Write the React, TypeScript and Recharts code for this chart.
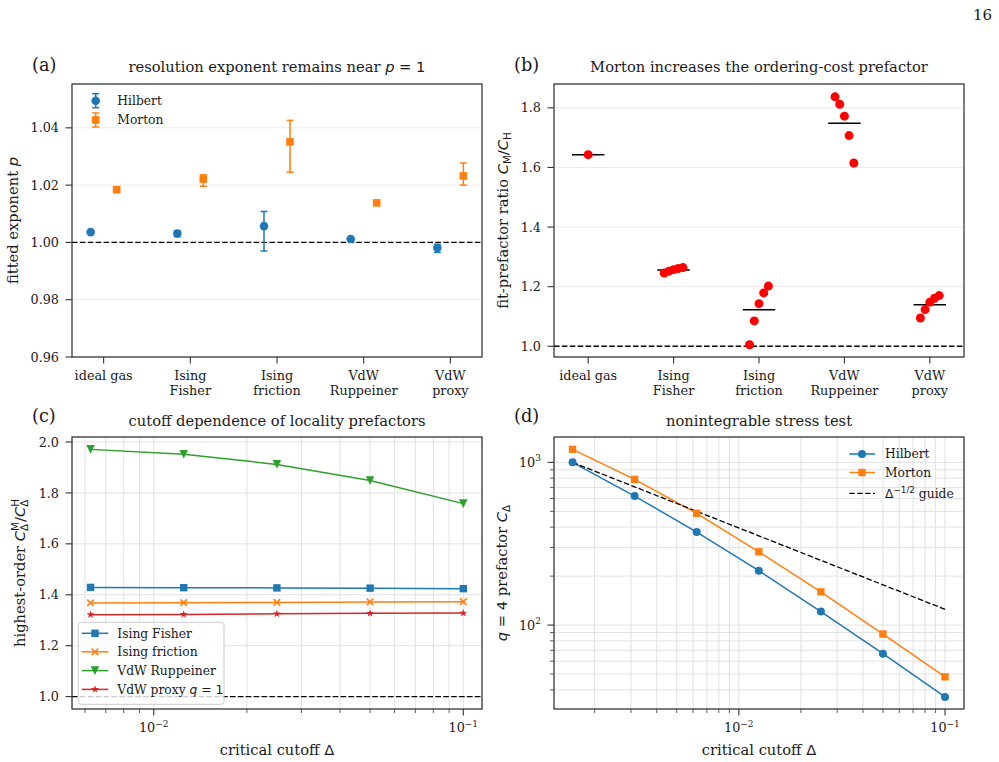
import React from 'react';
import {
  ScatterChart,
  Scatter,
  LineChart,
  Line,
  XAxis,
  YAxis,
  CartesianGrid,
  ErrorBar,
  ReferenceLine,
} from 'recharts';

// ---------- data ----------
const CATEGORIES = ['ideal gas', 'Ising\nFisher', 'Ising\nfriction', 'VdW\nRuppeiner', 'VdW\nproxy'];

// (a) fitted resolution exponent p with (asymmetric) fit intervals
const HILBERT_P = [1.0036, 1.0031, 1.0057, 1.0012, 0.9981];
const HILBERT_P_ERR_LO = [0.0003, 0.0011, 0.0087, 0.0003, 0.0016];
const HILBERT_P_ERR_HI = [0.0003, 0.001, 0.0051, 0.0003, 0.0012];
const MORTON_P = [1.0184, 1.0221, 1.0351, 1.0138, 1.0232];
const MORTON_P_ERR_LO = [0.0003, 0.0025, 0.0106, 0.0003, 0.0032];
const MORTON_P_ERR_HI = [0.0003, 0.0015, 0.0075, 0.0003, 0.0045];
const P_TICKS = [0.96, 0.98, 1.0, 1.02, 1.04];

// (b) per-run prefactor ratios C_M / C_H
const RATIO_IDEAL_GAS = [1.643];
const RATIO_ISING_FISHER = [1.246, 1.252, 1.257, 1.261, 1.264];
const RATIO_ISING_FRICTION = [1.005, 1.085, 1.143, 1.179, 1.202];
const RATIO_VDW_RUPPEINER = [1.837, 1.812, 1.772, 1.707, 1.615];
const RATIO_VDW_PROXY = [1.095, 1.123, 1.148, 1.161, 1.17];
const RATIO_TICKS = [1.0, 1.2, 1.4, 1.6, 1.8];

// (c) highest-order prefactor ratio vs critical cutoff
const CUTOFF_C = [0.00625, 0.0125, 0.025, 0.05, 0.1];
const FISHER_C = [1.429, 1.428, 1.427, 1.426, 1.424];
const FRICTION_C = [1.368, 1.369, 1.37, 1.372, 1.373];
const RUPPEINER_C = [1.971, 1.952, 1.912, 1.849, 1.758];
const PROXY_C = [1.322, 1.323, 1.325, 1.327, 1.328];
const CUTOFF_C_TICKS = [0.006, 0.007, 0.008, 0.009, 0.01, 0.02, 0.03, 0.04, 0.05, 0.06, 0.07, 0.08, 0.09, 0.1];
const RATIO_C_TICKS = [1.0, 1.2, 1.4, 1.6, 1.8, 2.0];

// (d) q = 4 prefactor vs critical cutoff
const CUTOFF_D = [0.0015625, 0.003125, 0.00625, 0.0125, 0.025, 0.05, 0.1];
const HILBERT_D = [1000, 621, 373, 216, 121, 66.7, 36.2];
const MORTON_D = [1202, 786, 486, 282, 160, 88.1, 48.1];
const GUIDE_D = [1000, 707.1, 500, 353.6, 250, 176.8, 125];
const CUTOFF_D_TICKS = [
  0.002, 0.003, 0.004, 0.005, 0.006, 0.007, 0.008, 0.009, 0.01,
  0.02, 0.03, 0.04, 0.05, 0.06, 0.07, 0.08, 0.09, 0.1,
];
const PREFACTOR_D_TICKS = [40, 50, 60, 70, 80, 90, 100, 200, 300, 400, 500, 600, 700, 800, 900, 1000];

// ---------- style ----------
const BLUE = '#1f77b4';
const ORANGE = '#ff7f0e';
const GREEN = '#2ca02c';
const RED = '#d62728';
const AX = '#333';
const TXT = '#1a1a1a';
const GRID_AB = '#ebebeb';
const GRID_CD = '#e2e2e2';
const SERIF = '"DejaVu Serif", serif';
const SANS = '"DejaVu Sans", sans-serif';
const TICK_FS = 12.8;
const LABEL_FS = 14.7;
const LEGEND_FS = 12.3;
const MAJOR_TICK = 6.5;
const MINOR_TICK = 4;
const DASH = '5.5 2.4';

type Rect = { l: number; t: number; r: number; b: number };
const PA: Rect = { l: 72, t: 84, r: 482, b: 357 };
const PB: Rect = { l: 554, t: 84, r: 964, b: 357 };
const PC: Rect = { l: 72, t: 437, r: 482, b: 709 };
const PD: Rect = { l: 554, t: 437, r: 964, b: 709 };

const Y_AXIS_W = 60;
const X_AXIS_H = 50;
const PAD_T = 10;
const PAD_R = 20;

function frameFor(p: Rect) {
  return {
    style: { position: 'absolute', left: p.l - Y_AXIS_W, top: p.t - PAD_T } as React.CSSProperties,
    width: p.r - p.l + Y_AXIS_W + PAD_R,
    height: p.b - p.t + PAD_T + X_AXIS_H,
    margin: { top: PAD_T, right: PAD_R, bottom: 0, left: 0 },
  };
}

// ---------- markers ----------
type MarkerKind = 'circle' | 'square' | 'x' | 'triDown' | 'star';

function Marker({ kind, cx, cy, color, size }: { kind: MarkerKind; cx: number; cy: number; color: string; size: number }) {
  const h = size / 2;
  if (kind === 'circle') return <circle cx={cx} cy={cy} r={h} fill={color} />;
  if (kind === 'square') return <rect x={cx - h} y={cy - h} width={size} height={size} fill={color} />;
  if (kind === 'x')
    return (
      <path
        d={`M${cx - h},${cy - h}L${cx + h},${cy + h}M${cx - h},${cy + h}L${cx + h},${cy - h}`}
        stroke={color}
        strokeWidth={1.6}
        fill="none"
      />
    );
  if (kind === 'triDown') return <path d={`M${cx - h},${cy - h}L${cx + h},${cy - h}L${cx},${cy + h}Z`} fill={color} />;
  const pts: string[] = [];
  for (let k = 0; k < 10; k++) {
    const rad = k % 2 === 0 ? h : h * 0.382;
    const a = -Math.PI / 2 + (k * Math.PI) / 5;
    pts.push(`${cx + rad * Math.cos(a)},${cy + rad * Math.sin(a)}`);
  }
  return <polygon points={pts.join(' ')} fill={color} />;
}

// ---------- ticks ----------
const isDecade = (v: number) => Math.abs(Math.log10(v) - Math.round(Math.log10(v))) < 1e-9;

const CategoryTick = (props: any) => {
  const { x, y, payload } = props;
  const lines = CATEGORIES[payload.value].split('\n');
  return (
    <g>
      <line x1={x} x2={x} y1={y} y2={y + MAJOR_TICK} stroke={AX} strokeWidth={1.1} />
      <text x={x} y={y + 22.7} textAnchor="middle" fontFamily={SERIF} fontSize={TICK_FS} fill={TXT}>
        {lines.map((l: string, i: number) => (
          <tspan key={i} x={x} dy={i === 0 ? 0 : 15.3}>
            {l}
          </tspan>
        ))}
      </text>
    </g>
  );
};

const LinearYTick = (props: any) => {
  const { x, y, payload, digits } = props;
  return (
    <g>
      <line x1={x - MAJOR_TICK} x2={x} y1={y} y2={y} stroke={AX} strokeWidth={1.1} />
      <text x={x - 13} y={y} dy="0.36em" textAnchor="end" fontFamily={SERIF} fontSize={TICK_FS} fill={TXT}>
        {payload.value.toFixed(digits)}
      </text>
    </g>
  );
};

const LogXTick = (props: any) => {
  const { x, y, payload } = props;
  const major = isDecade(payload.value);
  const exp = Math.round(Math.log10(payload.value));
  return (
    <g>
      <line x1={x} x2={x} y1={y} y2={y + (major ? MAJOR_TICK : MINOR_TICK)} stroke={AX} strokeWidth={major ? 1.1 : 0.8} />
      {major && (
        <text x={x} y={y + 23} textAnchor="middle" fontFamily={SERIF} fontSize={TICK_FS} fill={TXT}>
          10
          <tspan dy={-5.5} fontSize={9}>
            {exp < 0 ? `\u2212${-exp}` : `${exp}`}
          </tspan>
        </text>
      )}
    </g>
  );
};

const LogYTick = (props: any) => {
  const { x, y, payload } = props;
  const major = isDecade(payload.value);
  const exp = Math.round(Math.log10(payload.value));
  return (
    <g>
      <line x1={x - (major ? MAJOR_TICK : MINOR_TICK)} x2={x} y1={y} y2={y} stroke={AX} strokeWidth={major ? 1.1 : 0.8} />
      {major && (
        <text x={x - 13} y={y} dy="0.36em" textAnchor="end" fontFamily={SERIF} fontSize={TICK_FS} fill={TXT}>
          10
          <tspan dy={-5.5} fontSize={9}>
            {exp}
          </tspan>
        </text>
      )}
    </g>
  );
};

const axisCommon = { tickLine: false, axisLine: false, tickSize: 0, tickMargin: 0, interval: 0 as const, allowDataOverflow: true };

// ---------- panel (a) ----------
const DODGE = 0.15;

function PanelA() {
  const f = frameFor(PA);
  const hilbert = HILBERT_P.map((p, i) => ({ x: i - DODGE, y: p, err: [HILBERT_P_ERR_LO[i], HILBERT_P_ERR_HI[i]] }));
  const morton = MORTON_P.map((p, i) => ({ x: i + DODGE, y: p, err: [MORTON_P_ERR_LO[i], MORTON_P_ERR_HI[i]] }));
  return (
    <div style={f.style}>
      <ScatterChart width={f.width} height={f.height} margin={f.margin}>
        <CartesianGrid vertical={false} stroke={GRID_AB} />
        <XAxis
          {...axisCommon}
          type="number"
          dataKey="x"
          domain={[-0.365, 4.365]}
          ticks={[0, 1, 2, 3, 4]}
          tick={<CategoryTick />}
          height={X_AXIS_H}
        />
        <YAxis
          {...axisCommon}
          type="number"
          dataKey="y"
          domain={[0.96, 1.0553]}
          ticks={P_TICKS}
          tick={<LinearYTick digits={2} />}
          width={Y_AXIS_W}
        />
        <ReferenceLine y={1} stroke="#000" strokeDasharray={DASH} strokeWidth={1.3} />
        <Scatter
          data={hilbert}
          isAnimationActive={false}
          shape={(p: any) => <Marker kind="circle" cx={p.cx} cy={p.cy} color={BLUE} size={8.6} />}
        >
          <ErrorBar dataKey="err" direction="y" width={3.5} stroke={BLUE} strokeWidth={1.5} />
        </Scatter>
        <Scatter
          data={morton}
          isAnimationActive={false}
          shape={(p: any) => <Marker kind="square" cx={p.cx} cy={p.cy} color={ORANGE} size={7.6} />}
        >
          <ErrorBar dataKey="err" direction="y" width={3.5} stroke={ORANGE} strokeWidth={1.5} />
        </Scatter>
      </ScatterChart>
    </div>
  );
}

// ---------- panel (b) ----------
const RATIO_GROUPS = [RATIO_IDEAL_GAS, RATIO_ISING_FISHER, RATIO_ISING_FRICTION, RATIO_VDW_RUPPEINER, RATIO_VDW_PROXY];
const JITTER = 0.055;
const MEAN_HALF = 0.19;

function PanelB() {
  const f = frameFor(PB);
  const points = RATIO_GROUPS.flatMap((g, i) =>
    g.map((v, j) => ({ x: i + (j - (g.length - 1) / 2) * JITTER, y: v })),
  );
  const means = RATIO_GROUPS.map((g) => g.reduce((s, v) => s + v, 0) / g.length);
  return (
    <div style={f.style}>
      <ScatterChart width={f.width} height={f.height} margin={f.margin}>
        <CartesianGrid vertical={false} stroke={GRID_AB} />
        <XAxis
          {...axisCommon}
          type="number"
          dataKey="x"
          domain={[-0.4, 4.4]}
          ticks={[0, 1, 2, 3, 4]}
          tick={<CategoryTick />}
          height={X_AXIS_H}
        />
        <YAxis
          {...axisCommon}
          type="number"
          dataKey="y"
          domain={[0.964, 1.88]}
          ticks={RATIO_TICKS}
          tick={<LinearYTick digits={1} />}
          width={Y_AXIS_W}
        />
        <ReferenceLine y={1} stroke="#000" strokeDasharray={DASH} strokeWidth={1.3} />
        <Scatter
          data={points}
          isAnimationActive={false}
          shape={(p: any) => <Marker kind="circle" cx={p.cx} cy={p.cy} color="#ff0000" size={9} />}
        />
        {means.map((m, i) => (
          <ReferenceLine
            key={i}
            segment={[
              { x: i - MEAN_HALF, y: m },
              { x: i + MEAN_HALF, y: m },
            ]}
            stroke="#000"
            strokeWidth={1.5}
          />
        ))}
      </ScatterChart>
    </div>
  );
}

// ---------- panel (c) ----------
const SERIES_C = [
  { key: 'fisher', name: 'Ising Fisher', values: FISHER_C, color: BLUE, marker: 'square' as MarkerKind, size: 7.4 },
  { key: 'friction', name: 'Ising friction', values: FRICTION_C, color: ORANGE, marker: 'x' as MarkerKind, size: 6.6 },
  { key: 'ruppeiner', name: 'VdW Ruppeiner', values: RUPPEINER_C, color: GREEN, marker: 'triDown' as MarkerKind, size: 8.6 },
  { key: 'proxy', name: 'VdW proxy', values: PROXY_C, color: RED, marker: 'star' as MarkerKind, size: 8.4 },
];

function PanelC() {
  const f = frameFor(PC);
  const rows = CUTOFF_C.map((d, i) => {
    const row: Record<string, number> = { d };
    SERIES_C.forEach((s) => (row[s.key] = s.values[i]));
    return row;
  });
  return (
    <div style={f.style}>
      <LineChart width={f.width} height={f.height} margin={f.margin} data={rows}>
        <CartesianGrid stroke={GRID_CD} />
        <XAxis
          {...axisCommon}
          type="number"
          dataKey="d"
          scale="log"
          domain={[0.005446, 0.11492]}
          ticks={CUTOFF_C_TICKS}
          tick={<LogXTick />}
          height={X_AXIS_H}
        />
        <YAxis
          {...axisCommon}
          type="number"
          domain={[0.9514, 2.0196]}
          ticks={RATIO_C_TICKS}
          tick={<LinearYTick digits={1} />}
          width={Y_AXIS_W}
        />
        <ReferenceLine y={1} stroke="#000" strokeDasharray={DASH} strokeWidth={1.3} />
        {SERIES_C.map((s) => (
          <Line
            key={s.key}
            dataKey={s.key}
            type="linear"
            stroke={s.color}
            strokeWidth={1.5}
            isAnimationActive={false}
            activeDot={false}
            dot={(p: any) => <Marker key={p.index} kind={s.marker} cx={p.cx} cy={p.cy} color={s.color} size={s.size} />}
          />
        ))}
      </LineChart>
    </div>
  );
}

// ---------- panel (d) ----------
function PanelD() {
  const f = frameFor(PD);
  const rows = CUTOFF_D.map((d, i) => ({ d, hilbert: HILBERT_D[i], morton: MORTON_D[i], guide: GUIDE_D[i] }));
  return (
    <div style={f.style}>
      <LineChart width={f.width} height={f.height} margin={f.margin} data={rows}>
        <CartesianGrid stroke={GRID_CD} />
        <XAxis
          {...axisCommon}
          type="number"
          dataKey="d"
          scale="log"
          domain={[0.00127, 0.1236]}
          ticks={CUTOFF_D_TICKS}
          tick={<LogXTick />}
          height={X_AXIS_H}
        />
        <YAxis
          {...axisCommon}
          type="number"
          scale="log"
          domain={[30.5, 1432]}
          ticks={PREFACTOR_D_TICKS}
          tick={<LogYTick />}
          width={Y_AXIS_W}
        />
        <Line
          dataKey="hilbert"
          type="linear"
          stroke={BLUE}
          strokeWidth={1.5}
          isAnimationActive={false}
          activeDot={false}
          dot={(p: any) => <Marker key={p.index} kind="circle" cx={p.cx} cy={p.cy} color={BLUE} size={8} />}
        />
        <Line
          dataKey="morton"
          type="linear"
          stroke={ORANGE}
          strokeWidth={1.5}
          isAnimationActive={false}
          activeDot={false}
          dot={(p: any) => <Marker key={p.index} kind="square" cx={p.cx} cy={p.cy} color={ORANGE} size={7.4} />}
        />
        <Line
          dataKey="guide"
          type="linear"
          stroke="#000"
          strokeWidth={1.3}
          strokeDasharray={DASH}
          isAnimationActive={false}
          activeDot={false}
          dot={false}
        />
      </LineChart>
    </div>
  );
}

// ---------- frames, titles, labels, legends ----------
const Italic = ({ children }: { children: React.ReactNode }) => (
  <tspan fontFamily={SANS} fontStyle="italic">
    {children}
  </tspan>
);

function Frame({ p }: { p: Rect }) {
  return <rect x={p.l} y={p.t} width={p.r - p.l} height={p.b - p.t} fill="none" stroke={AX} strokeWidth={1.25} />;
}

function YLabel({ x, cy, children }: { x: number; cy: number; children: React.ReactNode }) {
  return (
    <text
      x={x}
      y={cy}
      transform={`rotate(-90 ${x} ${cy})`}
      textAnchor="middle"
      fontFamily={SERIF}
      fontSize={LABEL_FS}
      fill={TXT}
    >
      {children}
    </text>
  );
}

function Overlay() {
  const title = (p: Rect, y: number, content: React.ReactNode) => (
    <text x={(p.l + p.r) / 2} y={y} textAnchor="middle" fontFamily={SERIF} fontSize={LABEL_FS} fill={TXT}>
      {content}
    </text>
  );
  const letter = (x: number, y: number, s: string) => (
    <text x={x} y={y} fontFamily={SERIF} fontSize={17.7} fill={TXT}>
      {s}
    </text>
  );
  const legendText = (x: number, y: number, content: React.ReactNode) => (
    <text x={x} y={y} dy="0.36em" fontFamily={SERIF} fontSize={LEGEND_FS} fill={TXT}>
      {content}
    </text>
  );
  const cRows = [633.3, 651.8, 670.6, 689.4];
  const dRows = [454, 472.5, 493.3];
  return (
    <svg width={999} height={762} style={{ position: 'absolute', left: 0, top: 0, pointerEvents: 'none' }}>
      <text x={992} y={19.5} textAnchor="end" fontFamily={SERIF} fontSize={15} fill={TXT}>
        16
      </text>

      <Frame p={PA} />
      <Frame p={PB} />
      <Frame p={PC} />
      <Frame p={PD} />

      {letter(32, 70.5, '(a)')}
      {letter(514, 70.5, '(b)')}
      {letter(32, 422, '(c)')}
      {letter(514, 422, '(d)')}

      {title(PA, 71.5, <>
        resolution exponent remains near <Italic>p</Italic>
        <tspan fontFamily={SANS}> = 1</tspan>
      </>)}
      {title(PB, 71.5, 'Morton increases the ordering-cost prefactor')}
      {title(PC, 425.5, 'cutoff dependence of locality prefactors')}
      {title(PD, 425.5, 'nonintegrable stress test')}

      <YLabel x={18} cy={220.5}>
        fitted exponent <Italic>p</Italic>
      </YLabel>
      <YLabel x={508} cy={220.5}>
        fit-prefactor ratio <Italic>C</Italic>
        <tspan fontFamily={SANS} fontSize={10.3} dy={3}>M</tspan>
        <tspan fontFamily={SANS} dy={-3}>/</tspan>
        <Italic>C</Italic>
        <tspan fontFamily={SANS} fontSize={10.3} dy={3}>H</tspan>
      </YLabel>
      <YLabel x={24.5} cy={573}>
        highest-order <Italic>C</Italic>
        <tspan fontFamily={SANS} fontSize={10.3} dy={-6}>M</tspan>
        <tspan fontFamily={SANS} fontSize={10.3} dx={-8.9} dy={9.5}>Δ</tspan>
        <tspan fontFamily={SANS} dx={1.9} dy={-3.5}>/</tspan>
        <Italic>C</Italic>
        <tspan fontFamily={SANS} fontSize={10.3} dy={-6}>H</tspan>
        <tspan fontFamily={SANS} fontSize={10.3} dx={-7.7} dy={9.5}>Δ</tspan>
      </YLabel>
      <YLabel x={507} cy={573}>
        <Italic>q</Italic>
        <tspan fontFamily={SANS}> = 4</tspan> prefactor <Italic>C</Italic>
        <tspan fontFamily={SANS} fontSize={10.3} dy={3}>Δ</tspan>
      </YLabel>

      <text x={(PC.l + PC.r) / 2} y={755} textAnchor="middle" fontFamily={SERIF} fontSize={LABEL_FS} fill={TXT}>
        critical cutoff <tspan fontFamily={SANS}>Δ</tspan>
      </text>
      <text x={(PD.l + PD.r) / 2} y={755} textAnchor="middle" fontFamily={SERIF} fontSize={LABEL_FS} fill={TXT}>
        critical cutoff <tspan fontFamily={SANS}>Δ</tspan>
      </text>

      {/* legend (a): error-bar glyphs */}
      <g>
        <line x1={95.7} x2={95.7} y1={93.7} y2={107.7} stroke={BLUE} strokeWidth={1.5} />
        <line x1={92.2} x2={99.2} y1={93.7} y2={93.7} stroke={BLUE} strokeWidth={1.5} />
        <line x1={92.2} x2={99.2} y1={107.7} y2={107.7} stroke={BLUE} strokeWidth={1.5} />
        <Marker kind="circle" cx={95.7} cy={100.7} color={BLUE} size={8.6} />
        {legendText(117.3, 100.7, 'Hilbert')}
        <line x1={95.7} x2={95.7} y1={113} y2={127} stroke={ORANGE} strokeWidth={1.5} />
        <line x1={92.2} x2={99.2} y1={113} y2={113} stroke={ORANGE} strokeWidth={1.5} />
        <line x1={92.2} x2={99.2} y1={127} y2={127} stroke={ORANGE} strokeWidth={1.5} />
        <Marker kind="square" cx={95.7} cy={120} color={ORANGE} size={7.6} />
        {legendText(117.3, 120, 'Morton')}
      </g>

      {/* legend (c) */}
      <g>
        <rect x={78.3} y={622.3} width={145.7} height={82} rx={3} fill="#fff" fillOpacity={0.8} stroke="#cccccc" strokeWidth={1} />
        {SERIES_C.map((s, i) => (
          <g key={s.key}>
            <line x1={81.7} x2={108.3} y1={cRows[i]} y2={cRows[i]} stroke={s.color} strokeWidth={1.5} />
            <Marker kind={s.marker} cx={95} cy={cRows[i]} color={s.color} size={s.size} />
            {legendText(
              117.3,
              cRows[i],
              s.key === 'proxy' ? (
                <>
                  {s.name} <Italic>q</Italic>
                  <tspan fontFamily={SANS}> = 1</tspan>
                </>
              ) : (
                s.name
              ),
            )}
          </g>
        ))}
      </g>

      {/* legend (d) */}
      <g>
        <line x1={849.3} x2={875} y1={dRows[0]} y2={dRows[0]} stroke={BLUE} strokeWidth={1.5} />
        <Marker kind="circle" cx={862} cy={dRows[0]} color={BLUE} size={8} />
        {legendText(885, dRows[0], 'Hilbert')}
        <line x1={849.3} x2={875} y1={dRows[1]} y2={dRows[1]} stroke={ORANGE} strokeWidth={1.5} />
        <Marker kind="square" cx={862} cy={dRows[1]} color={ORANGE} size={7.4} />
        {legendText(885, dRows[1], 'Morton')}
        <line x1={849.3} x2={875} y1={dRows[2]} y2={dRows[2]} stroke="#000" strokeWidth={1.3} strokeDasharray={DASH} />
        {legendText(
          885,
          dRows[2],
          <>
            <tspan fontFamily={SANS}>Δ</tspan>
            <tspan fontFamily={SANS} fontSize={8.8} dy={-5}>
              −1/2
            </tspan>
            <tspan dy={5}> guide</tspan>
          </>,
        )}
      </g>
    </svg>
  );
}

export default function App() {
  return (
    <div style={{ position: 'absolute', left: 0, top: 0, width: 999, height: 762, background: '#fff', overflow: 'hidden' }}>
      <PanelA />
      <PanelB />
      <PanelC />
      <PanelD />
      <Overlay />
    </div>
  );
}
